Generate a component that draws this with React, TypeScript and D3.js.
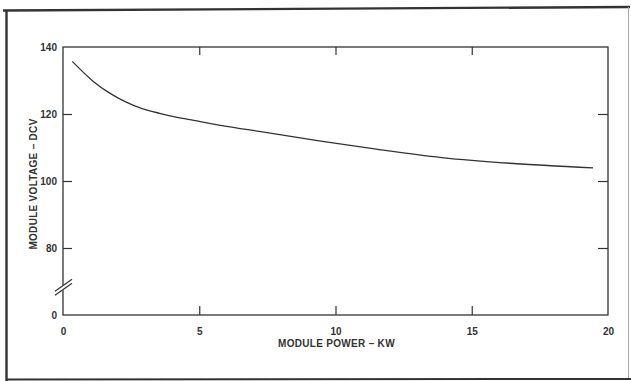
import React, { useRef, useEffect } from "react";
import * as d3 from "d3";

// module power (kW) vs module voltage (DCV)
const powerKw = [0.34, 1.1, 1.7, 2.3, 2.9, 3.55, 4.15, 4.8, 6.0, 7.2, 9.4, 11.5, 13.9, 16.4, 19.45];
const voltageDcv = [135.7, 129.8, 126.3, 123.6, 121.6, 120.2, 119.1, 118.1, 116.3, 114.8, 112.0, 109.5, 107.0, 105.3, 103.9];

const xTicks = [0, 5, 10, 15, 20];
const yTicks = [80, 100, 120, 140];
// the axis is broken: the bottom of the scale stands for 0
const yBreakValue = 60;
const yBreakLabel = "0";

const xTitle = "MODULE POWER \u2013 KW";
const yTitle = "MODULE VOLTAGE \u2013 DCV";

const App = () => {
  const ref = useRef<SVGSVGElement>(null);

  useEffect(() => {
    const svg = d3.select(ref.current);
    svg.selectAll("*").remove();

    const W = 631;
    const H = 381;
    const ink = "#333";
    const font = "'Liberation Sans', Arial, Helvetica, sans-serif";
    const margin = { top: 47, right: 23, bottom: 66, left: 63 };
    const width = W - margin.left - margin.right;
    const height = H - margin.top - margin.bottom;

    svg.attr("width", W).attr("height", H);
    svg.append("rect").attr("width", W).attr("height", H).attr("fill", "#fff");

    // outer page frame
    const frame = svg.append("g").attr("fill", "none");
    frame.append("line").attr("x1", 3).attr("x2", 630).attr("y1", 10.5).attr("y2", 7)
      .attr("stroke", ink).attr("stroke-width", 2.4);
    frame.append("line").attr("x1", 6.5).attr("x2", 6.5).attr("y1", 10).attr("y2", 381)
      .attr("stroke", ink).attr("stroke-width", 2.4);
    frame.append("line").attr("x1", 6).attr("x2", 631).attr("y1", 379.5).attr("y2", 379)
      .attr("stroke", ink).attr("stroke-width", 2);
    frame.append("line").attr("x1", 628.5).attr("x2", 628.5).attr("y1", 7).attr("y2", 378)
      .attr("stroke", "#aaa").attr("stroke-width", 1);

    const g = svg.append("g").attr("transform", `translate(${margin.left},${margin.top})`);

    const x = d3.scaleLinear().domain([0, 20]).range([0, width]);
    const y = d3.scaleLinear().domain([yBreakValue, 140]).range([height, 0]);

    const styleAxis = (sel: any) => {
      sel.select(".domain").remove();
      sel.selectAll(".tick line").attr("stroke", ink).attr("stroke-width", 1.2);
      sel.selectAll(".tick text")
        .attr("fill", ink)
        .attr("font-family", font)
        .attr("font-weight", 700)
        .attr("font-size", 10);
    };

    const inner = xTicks.filter((d) => d > 0 && d < 20);
    const innerY = yTicks.filter((d) => d < 140);

    // bottom axis: labels with inward ticks
    g.append("g")
      .attr("transform", `translate(0,${height})`)
      .call(d3.axisBottom(x).tickValues(xTicks).tickSize(0).tickPadding(13).tickFormat(d3.format("d")))
      .call(styleAxis);
    g.append("g")
      .attr("transform", `translate(0,${height})`)
      .call(d3.axisBottom(x).tickValues(inner).tickSize(-9).tickFormat(() => ""))
      .call(styleAxis);
    // top axis ticks
    g.append("g")
      .call(d3.axisTop(x).tickValues(inner).tickSize(-8).tickFormat(() => ""))
      .call(styleAxis);
    // left axis: labels and inward ticks
    g.append("g")
      .call(d3.axisLeft(y).tickValues([yBreakValue, ...yTicks]).tickSize(0).tickPadding(6)
        .tickFormat((d: any) => (d === yBreakValue ? yBreakLabel : String(d))))
      .call(styleAxis);
    g.append("g")
      .call(d3.axisLeft(y).tickValues(innerY).tickSize(-9).tickFormat(() => ""))
      .call(styleAxis);
    // right axis ticks
    g.append("g")
      .attr("transform", `translate(${width},0)`)
      .call(d3.axisRight(y).tickValues(innerY).tickSize(-10).tickFormat(() => ""))
      .call(styleAxis);

    // plot frame
    g.append("rect")
      .attr("width", width)
      .attr("height", height)
      .attr("fill", "none")
      .attr("stroke", ink)
      .attr("stroke-width", 1.3);

    // axis break marks on the left axis
    const by = y(yBreakValue + 8);
    g.append("rect").attr("x", -2).attr("y", by - 3).attr("width", 4).attr("height", 5).attr("fill", "#fff");
    [-2, 2].forEach((off) => {
      g.append("line")
        .attr("x1", -8).attr("y1", by + off + 5)
        .attr("x2", 9).attr("y2", by + off - 7)
        .attr("stroke", ink)
        .attr("stroke-width", 1.2);
    });

    // curve
    const line = d3
      .line<number>()
      .x((d, i) => x(powerKw[i]))
      .y((d) => y(d))
      .curve(d3.curveCatmullRom.alpha(0.5));
    g.append("path")
      .datum(voltageDcv)
      .attr("d", line)
      .attr("fill", "none")
      .attr("stroke", ink)
      .attr("stroke-width", 1.3);

    // axis titles
    g.append("text")
      .attr("x", width / 2 + 1)
      .attr("y", height + 32)
      .attr("text-anchor", "middle")
      .attr("font-family", font)
      .attr("font-weight", 700)
      .attr("font-size", 10)
      .attr("letter-spacing", 0.3)
      .attr("fill", ink)
      .text(xTitle);
    g.append("text")
      .attr("transform", "rotate(-90)")
      .attr("x", -(184 - margin.top))
      .attr("y", -26)
      .attr("text-anchor", "middle")
      .attr("font-family", font)
      .attr("font-weight", 700)
      .attr("font-size", 10)
      .attr("letter-spacing", 0.3)
      .attr("fill", ink)
      .text(yTitle);
  }, []);

  return <svg ref={ref} style={{ position: "fixed", top: 0, left: 0, display: "block" }} />;
};

export default App;
